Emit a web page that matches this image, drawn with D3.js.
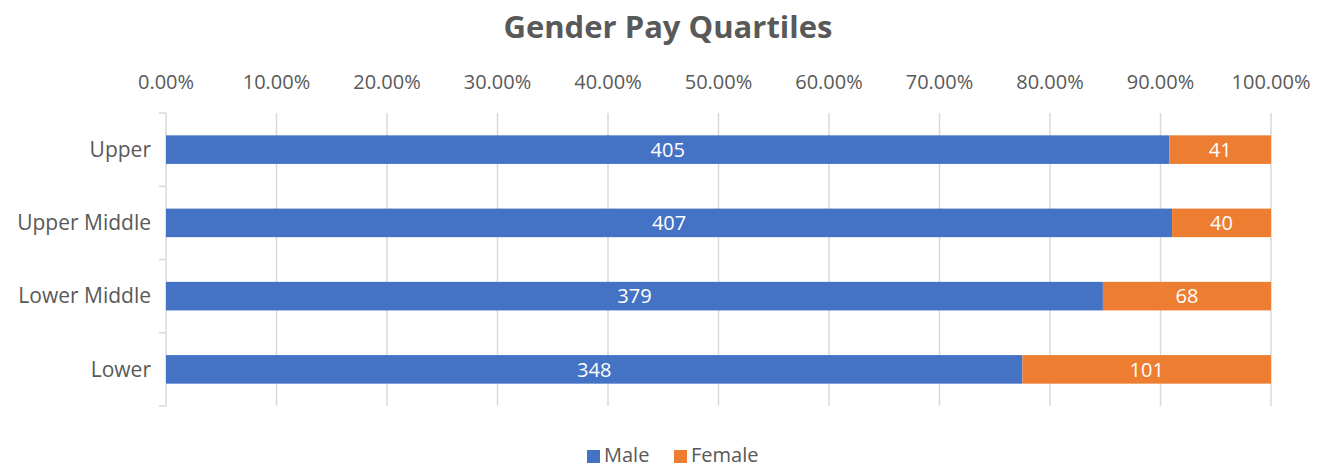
<!DOCTYPE html>
<html>
<head>
<meta charset="utf-8">
<script src="https://cdn.jsdelivr.net/npm/d3@7"></script>
<style>
  body { margin: 0; background: #fff; }
  text { font-family: "Open Sans", "Noto Sans", sans-serif; }
</style>
</head>
<body>
<div id="chart"></div>
<script>
// data
var categories = ["Upper", "Upper Middle", "Lower Middle", "Lower"];
var male = [405, 407, 379, 348];
var female = [41, 40, 68, 101];
var seriesNames = ["Male", "Female"];
var seriesColors = ["#4472c4", "#ed7d31"];
var tickValues = [0, 0.1, 0.2, 0.3, 0.4, 0.5, 0.6, 0.7, 0.8, 0.9, 1.0];

var W = 1319, H = 467;
var margin = {top: 113, right: 48, bottom: 61, left: 166},
    width = W - margin.left - margin.right,
    height = H - margin.top - margin.bottom;

var svg = d3.select("#chart")
  .append("svg")
    .attr("width", W)
    .attr("height", H);

var g = svg.append("g")
    .attr("transform", "translate(" + margin.left + "," + margin.top + ")");

var rows = categories.map(function(c, i) {
  return {cat: c, Male: male[i], Female: female[i]};
});
var stack = d3.stack().keys(seriesNames).offset(d3.stackOffsetExpand);
var series = stack(rows);

var x = d3.scaleLinear().domain([0, 1]).range([0, width]);
var y = d3.scaleBand().domain(categories).range([0, height]).paddingInner(0.61).paddingOuter(0.305);

// gridlines
g.append("g")
  .selectAll("line")
  .data(tickValues.slice(1))
  .enter().append("line")
    .attr("x1", function(d) { return x(d); })
    .attr("x2", function(d) { return x(d); })
    .attr("y1", 0)
    .attr("y2", height)
    .style("stroke", "#d9d9d9")
    .style("stroke-width", 1.5);

// top tick labels
var fmt = d3.format(".2%");
g.append("g")
  .selectAll("text")
  .data(tickValues)
  .enter().append("text")
    .attr("x", function(d) { return x(d); })
    .attr("y", -24)
    .attr("text-anchor", "middle")
    .style("font-size", "20px")
    .style("fill", "#595959")
    .text(function(d) { return fmt(d); });

// left axis line and category ticks
var step = height / categories.length;
g.append("line")
  .attr("x1", 0).attr("x2", 0)
  .attr("y1", 0).attr("y2", height)
  .style("stroke", "#d9d9d9")
  .style("stroke-width", 1.5);
g.append("g")
  .selectAll("line")
  .data(d3.range(categories.length + 1))
  .enter().append("line")
    .attr("x1", -7).attr("x2", 0)
    .attr("y1", function(d) { return d * step; })
    .attr("y2", function(d) { return d * step; })
    .style("stroke", "#d9d9d9")
    .style("stroke-width", 1.5);

g.append("g")
  .selectAll("text")
  .data(categories)
  .enter().append("text")
    .attr("x", -15)
    .attr("y", function(d) { return y(d) + y.bandwidth() / 2; })
    .attr("dy", "0.35em")
    .attr("text-anchor", "end")
    .style("font-size", "21px")
    .style("fill", "#595959")
    .text(function(d) { return d; });

// bars
var layers = g.append("g")
  .selectAll("g")
  .data(series)
  .enter().append("g")
    .style("fill", function(d, i) { return seriesColors[i]; });

layers.selectAll("rect")
  .data(function(d) { return d; })
  .enter().append("rect")
    .attr("x", function(d) { return x(d[0]); })
    .attr("y", function(d) { return y(d.data.cat); })
    .attr("width", function(d) { return x(d[1]) - x(d[0]); })
    .attr("height", y.bandwidth());

// data labels
series.forEach(function(s) {
  g.append("g")
    .selectAll("text")
    .data(s)
    .enter().append("text")
      .attr("x", function(d) { return (x(d[0]) + x(d[1])) / 2; })
      .attr("y", function(d) { return y(d.data.cat) + y.bandwidth() / 2; })
      .attr("dy", "0.36em")
      .attr("text-anchor", "middle")
      .style("font-size", "20px")
      .style("fill", "#ffffff")
      .text(function(d) { return d.data[s.key]; });
});

// title
svg.append("text")
  .attr("x", 668)
  .attr("y", 38)
  .attr("text-anchor", "middle")
  .style("font-size", "31px")
  .style("font-weight", "bold")
  .style("fill", "#595959")
  .text("Gender Pay Quartiles");

// legend
var legendX = [587, 674];
var legend = svg.append("g");
seriesNames.forEach(function(name, i) {
  legend.append("rect")
    .attr("x", legendX[i])
    .attr("y", 450)
    .attr("width", 13)
    .attr("height", 13)
    .style("fill", seriesColors[i]);
  legend.append("text")
    .attr("x", legendX[i] + 17)
    .attr("y", 455)
    .attr("dy", "0.35em")
    .style("font-size", "20px")
    .style("fill", "#595959")
    .text(name);
});
</script>
</body>
</html>
